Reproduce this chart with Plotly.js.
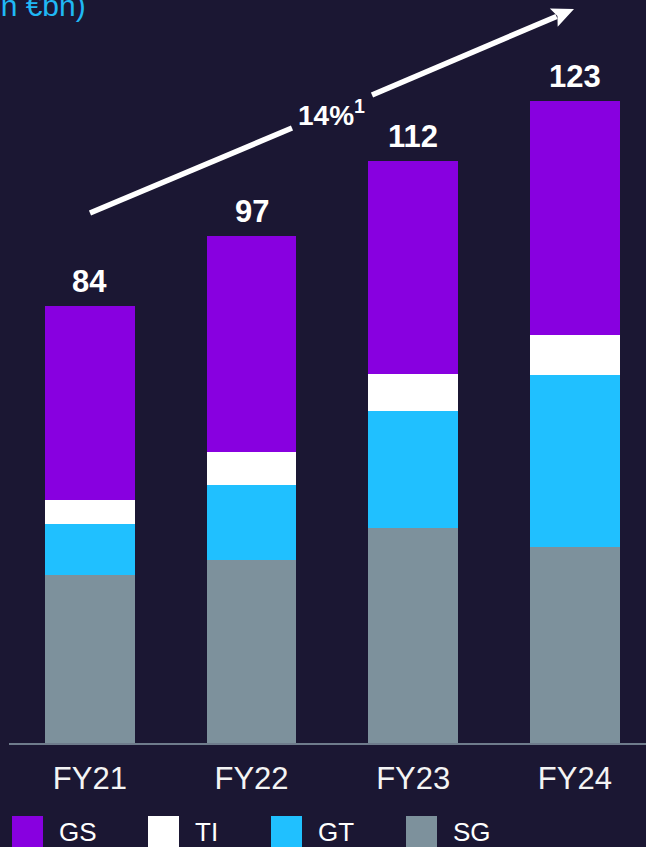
<!DOCTYPE html>
<html>
<head>
<meta charset="utf-8">
<script src="https://cdn.plot.ly/plotly-3.0.1.min.js"></script>
<style>
html,body{margin:0;padding:0;background:#1b1733;}
#chart{width:646px;height:847px;}
</style>
</head>
<body>
<div id="chart"></div>
<script>
// ---- data ----
const categories = ["FY21", "FY22", "FY23", "FY24"];
const seriesNames = ["SG", "GT", "TI", "GS"];
const SG = [32.3, 35.1, 41.3, 37.7];
const GT = [9.8, 14.4, 22.5, 32.9];
const TI = [4.5, 6.3, 7.0, 7.8];
const GS = [37.2, 41.5, 40.9, 44.9];
const totals = [84, 97, 112, 123];
const cagrLabel = "14%";
const unitLabel = "(in €bn)";
const legendOrder = ["GS", "TI", "GT", "SG"];

// ---- styles ----
const colors = {GS: "#8800e0", TI: "#ffffff", GT: "#20c0ff", SG: "#7d919c"};
const BG = "#1b1733";
const FONT = "Liberation Sans, Arial, sans-serif";
const W = 646, H = 847;
const ML = 9, MB = 104, MT = 0, MR = 0;
const plotW = W - ML - MR, plotH = H - MT - MB;
const px2x = px => (px - ML) / plotW;
const py2y = py => (H - MB - py) / plotH;

const values = {SG, GT, TI, GS};
const traces = seriesNames.map(n => ({
  type: "bar",
  name: n,
  x: categories,
  y: values[n],
  width: 0.555,
  marker: {color: colors[n], line: {width: 0}},
  hoverinfo: "x+y+name",
  showlegend: false
}));

const stackTop = categories.map((c, i) => SG[i] + GT[i] + TI[i] + GS[i]);

const annotations = [];
categories.forEach((c, i) => {
  annotations.push({
    x: c, y: stackTop[i], xref: "x", yref: "y",
    text: "<b>" + totals[i] + "</b>",
    showarrow: false, yanchor: "bottom", yshift: 5,
    font: {family: FONT, size: 31, color: "#ffffff"}
  });
});

annotations.push({
  xref: "paper", yref: "paper",
  x: px2x(331), y: py2y(113),
  text: "<b>" + cagrLabel + "<sup>1</sup></b>",
  showarrow: false, xanchor: "center", yanchor: "middle",
  font: {family: FONT, size: 28, color: "#ffffff"}
});

// unit title (partly off-canvas, as in the source)
annotations.push({
  xref: "paper", yref: "paper",
  x: px2x(88), y: py2y(5),
  text: unitLabel, showarrow: false,
  xanchor: "right", yanchor: "middle",
  font: {family: FONT, size: 30, color: "#20b8f5"}
});

// CAGR arrow: two segments around the label + a triangular head
const tip = [574, 9], tail2 = [372, 95];
const dx = tip[0] - tail2[0], dy = tip[1] - tail2[1];
const len = Math.hypot(dx, dy);
const ux = dx / len, uy = dy / len, nx = -uy, ny = ux;
const headL = 22, headHW = 10;
const bx = tip[0] - headL * ux, by = tip[1] - headL * uy;
const p = (x, y) => px2x(x) + "," + py2y(y);
const shapes = [
  {type: "line", xref: "paper", yref: "paper",
   x0: px2x(90), y0: py2y(213), x1: px2x(292), y1: py2y(128),
   line: {color: "#ffffff", width: 5.5}},
  {type: "line", xref: "paper", yref: "paper",
   x0: px2x(tail2[0]), y0: py2y(tail2[1]), x1: px2x(bx + 3 * ux), y1: py2y(by + 3 * uy),
   line: {color: "#ffffff", width: 5.5}},
  {type: "path", xref: "paper", yref: "paper",
   path: "M" + p(tip[0], tip[1]) + " L" + p(bx + headHW * nx, by + headHW * ny) +
         " L" + p(bx + 4 * ux, by + 4 * uy) + " L" + p(bx - headHW * nx, by - headHW * ny) + " Z",
   fillcolor: "#ffffff", line: {width: 0}}
];

// custom legend
const legSquareX = [12, 148, 271, 406];
legendOrder.forEach((n, i) => {
  shapes.push({
    type: "rect", xref: "paper", yref: "paper",
    x0: px2x(legSquareX[i]), x1: px2x(legSquareX[i] + 31),
    y0: py2y(816), y1: py2y(860),
    fillcolor: colors[n], line: {width: 0}
  });
  annotations.push({
    xref: "paper", yref: "paper",
    x: px2x(legSquareX[i] + 45), y: py2y(832),
    text: n, showarrow: false, xanchor: "left", yanchor: "middle",
    font: {family: FONT, size: 26, color: "#ffffff"}
  });
});

const layout = {
  width: W, height: H,
  margin: {l: ML, r: MR, t: MT, b: MB},
  paper_bgcolor: BG, plot_bgcolor: BG,
  barmode: "stack",
  bargap: 0,
  showlegend: false,
  font: {family: FONT, color: "#ffffff"},
  xaxis: {
    type: "category",
    range: [-0.5, 3.44],
    showline: true, linecolor: "#6f7c8c", linewidth: 2,
    showgrid: false, zeroline: false, ticks: "",
    tickfont: {family: FONT, size: 31, color: "#f4f4f4"},
    ticklabelstandoff: 7,
    fixedrange: true
  },
  yaxis: {
    range: [0, plotH / 5.21],
    visible: false, showgrid: false, zeroline: false,
    fixedrange: true
  },
  annotations: annotations,
  shapes: shapes
};

Plotly.newPlot("chart", traces, layout, {displayModeBar: false, staticPlot: true});
</script>
</body>
</html>
